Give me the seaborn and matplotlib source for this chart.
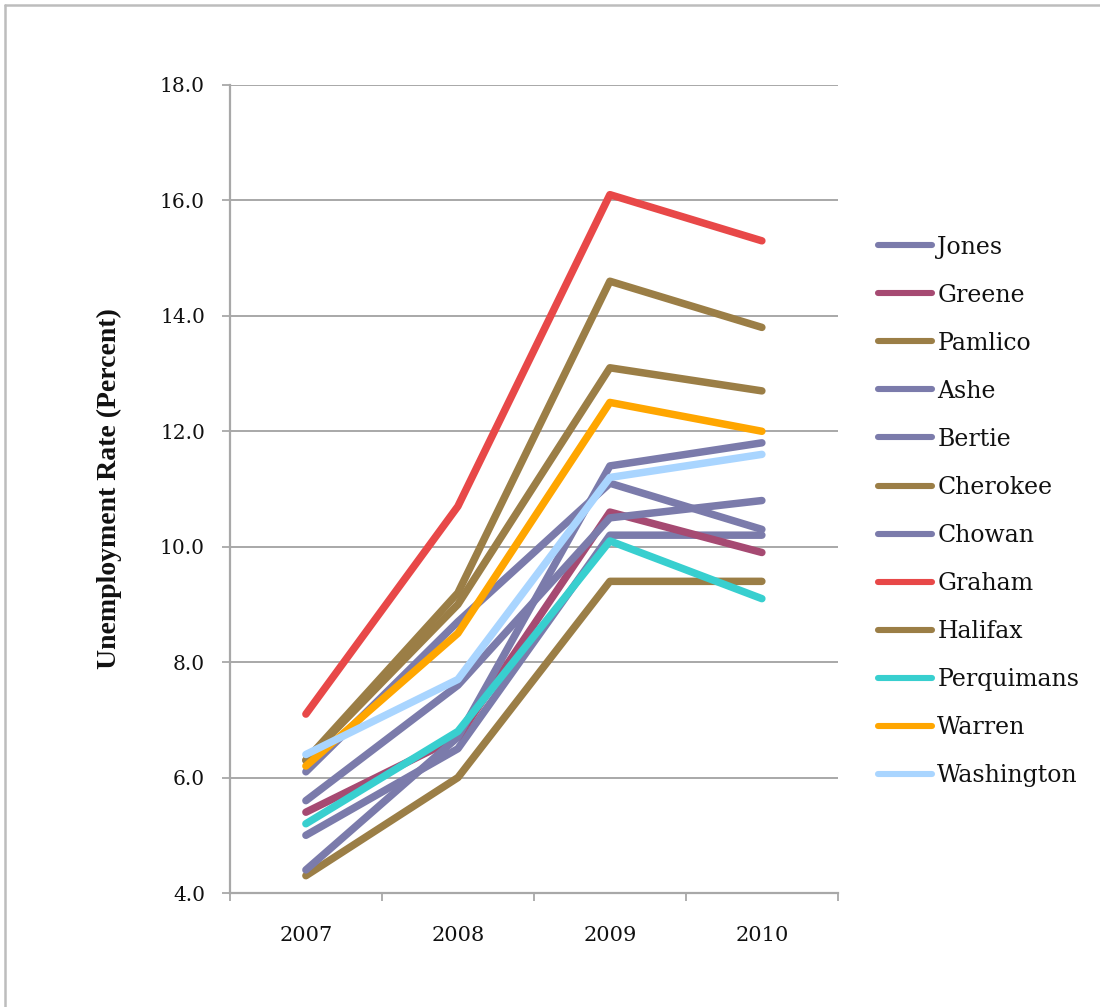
import numpy as np
import pandas as pd
import matplotlib
matplotlib.use("Agg")
import matplotlib.pyplot as plt
import seaborn as sns
from matplotlib.lines import Line2D
from matplotlib.ticker import FixedLocator, NullFormatter, FixedFormatter

# ---- data ----
years = [2007, 2008, 2009, 2010]
counties = ["Jones", "Greene", "Pamlico", "Ashe", "Bertie", "Cherokee",
            "Chowan", "Graham", "Halifax", "Perquimans", "Warren", "Washington"]
jones = [5.0, 6.5, 10.2, 10.2]
greene = [5.4, 6.7, 10.6, 9.9]
pamlico = [4.3, 6.0, 9.4, 9.4]
ashe = [4.4, 6.7, 11.4, 11.8]
bertie = [6.1, 8.7, 11.1, 10.3]
cherokee = [6.3, 9.2, 14.6, 13.8]
chowan = [5.6, 7.6, 10.5, 10.8]
graham = [7.1, 10.7, 16.1, 15.3]
halifax = [6.3, 9.0, 13.1, 12.7]
perquimans = [5.2, 6.8, 10.1, 9.1]
warren = [6.2, 8.5, 12.5, 12.0]
washington = [6.4, 7.7, 11.2, 11.6]
series = [jones, greene, pamlico, ashe, bertie, cherokee, chowan, graham,
          halifax, perquimans, warren, washington]
y_ticks = [4.0, 6.0, 8.0, 10.0, 12.0, 14.0, 16.0, 18.0]
y_label = "Unemployment Rate (Percent)"

purple = "#7B7BAB"
brown = "#9B7E46"
colors = {
    "Jones": purple, "Greene": "#A64A72", "Pamlico": brown, "Ashe": purple,
    "Bertie": purple, "Cherokee": brown, "Chowan": purple, "Graham": "#E84848",
    "Halifax": brown, "Perquimans": "#38CFCF", "Warren": "#FFA600",
    "Washington": "#A9D5FF",
}

df = pd.DataFrame({
    "year": np.tile(years, len(counties)),
    "county": np.repeat(counties, len(years)),
    "rate": np.concatenate(series),
})

sns.set_style("white")
plt.rcParams["font.family"] = ["DejaVu Serif"]

fig = plt.figure(figsize=(11, 10.07), dpi=100)
ax = fig.add_axes([0.209, 0.1132, 0.5527, 0.8024])

sns.lineplot(data=df, x="year", y="rate", hue="county", hue_order=counties,
             palette=colors, linewidth=5.4, legend=False, ax=ax,
             solid_capstyle="round", solid_joinstyle="round", zorder=3)

grid_c = "#A8A8A8"
ax.set_xlim(2006.5, 2010.5)
ax.set_ylim(4, 18)
ax.set_yticks(y_ticks)
ax.set_yticklabels([f"{v:.1f}" for v in y_ticks])
ax.yaxis.grid(True, color=grid_c, linewidth=1.4, zorder=0)
ax.xaxis.grid(False)
for s in ["top", "right"]:
    ax.spines[s].set_visible(False)
for s in ["left", "bottom"]:
    ax.spines[s].set_color(grid_c)
    ax.spines[s].set_linewidth(1.6)

ax.xaxis.set_major_locator(FixedLocator([2006.5, 2007.5, 2008.5, 2009.5, 2010.5]))
ax.xaxis.set_major_formatter(NullFormatter())
ax.xaxis.set_minor_locator(FixedLocator(years))
ax.xaxis.set_minor_formatter(FixedFormatter([str(y) for y in years]))
ax.tick_params(axis="x", which="major", direction="out", length=6, width=1.3,
               color=grid_c, bottom=True)
ax.tick_params(axis="x", which="minor", length=0, pad=24, labelsize=15,
               labelcolor="#111111", bottom=True)
ax.tick_params(axis="y", which="major", direction="out", length=6, width=1.3,
               color=grid_c, pad=12, labelsize=14.5, labelcolor="#111111", left=True)
ax.set_xlabel("")
ax.set_ylabel(y_label, fontsize=20, fontweight="bold",
              fontfamily=["Liberation Serif", "DejaVu Serif"], color="#111111")
ax.yaxis.set_label_coords(-0.178, 0.5)

handles = [Line2D([0], [0], color=colors[c], linewidth=4.4, solid_capstyle="round")
           for c in counties]
fig.legend(handles, counties, loc="upper left", bbox_to_anchor=(0.798, 0.766),
           frameon=False, fontsize=17, handlelength=2.3, handletextpad=0.22,
           labelspacing=1.06, borderpad=0, borderaxespad=0, labelcolor="#111111")

# outer frame (top and left edges visible)
fig.add_artist(Line2D([0.0045, 0.0045], [0, 0.9955], transform=fig.transFigure,
                      color="#BDBDBD", linewidth=1.8))
fig.add_artist(Line2D([0.0045, 1.0], [0.9955, 0.9955], transform=fig.transFigure,
                      color="#BDBDBD", linewidth=1.8))

fig.savefig("out.png", dpi=100)
